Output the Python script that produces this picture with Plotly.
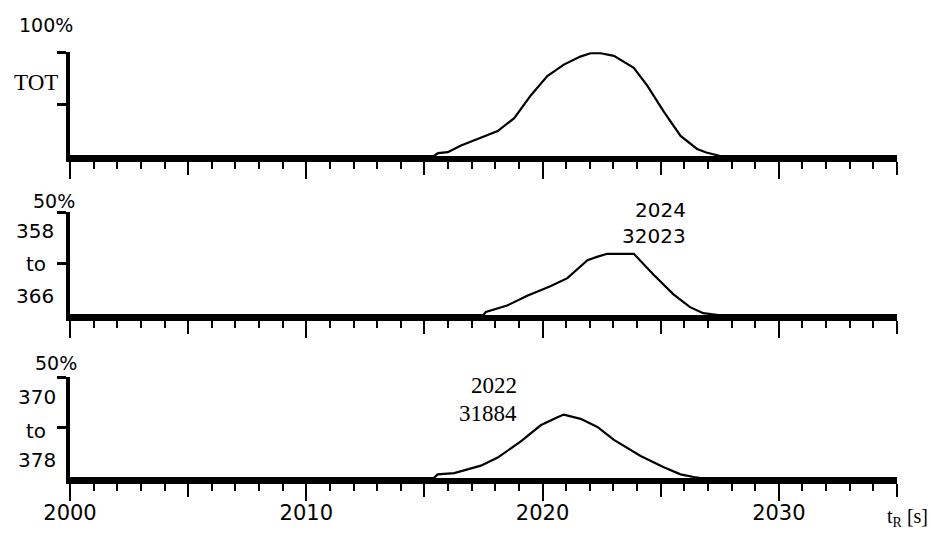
import plotly.graph_objects as go

# ---------------- data ----------------
t_tot = [2000, 2015.4, 2015.58, 2015.99, 2016.55, 2017.39, 2018.1, 2018.8, 2019.5, 2020.2,
         2020.9, 2021.6, 2022.03, 2022.46, 2023.02, 2023.86, 2024.43, 2025.13, 2025.84,
         2026.54, 2026.93, 2027.52, 2035]
v_tot = [0, 0, 2.8, 3.7, 10, 17.8, 24, 36.4, 58.2, 76.9,
         87.9, 95.6, 98.8, 98.8, 96.3, 84.8, 67.6, 42.7, 19.3,
         6.8, 3.3, 0, 0]

t_358 = [2000, 2017.5, 2017.6, 2018.5, 2019.35, 2020.33, 2021.05, 2021.9, 2022.3, 2022.74,
         2023.86, 2024.7, 2025.54, 2026.24, 2026.8, 2027.44, 2035]
v_358 = [0, 0, 1.5, 4.6, 9.3, 14.0, 17.9, 26.6, 28.2, 29.7,
         29.7, 19.5, 10.0, 3.8, 0.9, 0, 0]

t_370 = [2000, 2015.4, 2015.56, 2016.26, 2017.39, 2018.1, 2019.08, 2019.92, 2020.63, 2020.9,
         2021.61, 2022.32, 2023.02, 2024.15, 2025.13, 2025.84, 2026.4, 2026.7, 2035]
v_370 = [0, 0, 1.8, 2.4, 6.1, 10.1, 18.1, 26.1, 30.1, 31.4,
         29.3, 25.3, 18.9, 10.9, 5.3, 1.8, 0.5, 0, 0]

x_range = [2000, 2035]
x_tick_labels = [2000, 2010, 2020, 2030]

panel_scale = ["100%", "50%", "50%"]
panel_names = [["TOT"], ["358", "to", "366"], ["370", "to", "378"]]
peak_labels = [None, ["2024", "32023"], ["2022", "31884"]]
x_title = "t<sub>R</sub> [s]"

# ---------------- layout helpers ----------------
W, H = 931, 535


def px(p):
    return p / W


def py(p):
    return 1 - p / H


SANS = "DejaVu Sans"
SERIF = "Liberation Serif"

fig = go.Figure()
series = [(t_tot, v_tot), (t_358, v_358), (t_370, v_370)]
for i, (t, v) in enumerate(series):
    sfx = "" if i == 0 else str(i + 1)
    fig.add_trace(go.Scatter(x=t, y=v, mode="lines", xaxis="x" + sfx, yaxis="y" + sfx,
                             line=dict(color="black", width=2.2), showlegend=False,
                             hoverinfo="skip"))
    # empty trace so that the overlay axis (long 10 s ticks) gets drawn
    fig.add_trace(go.Scatter(x=[], y=[], mode="lines", xaxis="x" + str(i + 4),
                             yaxis="y" + sfx, showlegend=False, hoverinfo="skip"))

xdom = [px(70), px(897)]
# pixel rows (baseline, top) of each panel
rows = [(156, 52), (315, 212), (478, 377)]
yranges = [[0, 100], [0, 50], [0, 50]]

layout = dict(width=W, height=H, margin=dict(l=0, r=0, t=0, b=0, autoexpand=False),
              paper_bgcolor="white", plot_bgcolor="white", showlegend=False)

for i in range(3):
    sfx = "" if i == 0 else str(i + 1)
    base, top = rows[i]
    ydom = [py(base), py(top)]
    layout["yaxis" + sfx] = dict(domain=ydom, range=yranges[i], anchor="x" + sfx,
                                 showline=True, linewidth=4, linecolor="black",
                                 ticks="outside", ticklen=9, tickwidth=3, tickcolor="black",
                                 tickvals=[yranges[i][1] / 2, yranges[i][1]],
                                 showticklabels=False, showgrid=False, zeroline=False,
                                 fixedrange=True, automargin=False)
    layout["xaxis" + sfx] = dict(domain=xdom, range=x_range, anchor="y" + sfx,
                                 showline=True, linewidth=6, linecolor="black",
                                 ticks="outside", ticklen=13, tickwidth=2, tickcolor="black",
                                 tick0=2000, dtick=5, tickmode="linear",
                                 minor=dict(ticks="outside", ticklen=7, tickwidth=2,
                                            tickcolor="black", dtick=1, tick0=2000),
                                 showticklabels=False, showgrid=False, zeroline=False,
                                 fixedrange=True, automargin=False)
    # overlay axis carrying the long 10 s ticks (and labels on the bottom panel)
    layout["xaxis" + str(i + 4)] = dict(overlaying="x" + sfx, anchor="y" + sfx,
                                       domain=xdom, range=x_range, showline=False,
                                       ticks="outside", ticklen=22, tickwidth=2,
                                       tickcolor="black", tickmode="array",
                                       tickvals=x_tick_labels,
                                       ticktext=[str(v) for v in x_tick_labels],
                                       showticklabels=(i == 2),
                                       ticklabelstandoff=-6,
                                       tickfont=dict(family=SANS, size=21, color="black"),
                                       showgrid=False, zeroline=False, fixedrange=True,
                                       automargin=False)

fig.update_layout(**layout)

ann = []


def add(text, x, y, xa="center", font=SANS, size=19):
    ann.append(dict(text=text, x=px(x), y=py(y), xref="paper", yref="paper",
                    xanchor=xa, yanchor="middle", showarrow=False,
                    font=dict(family=font, size=size, color="black")))


# panel 1
add(panel_scale[0], 46, 25)
add(panel_names[0][0], 36, 82, font=SERIF, size=23)
# panel 2
add(panel_scale[1], 54, 201)
add(panel_names[1][0], 56, 231, xa="right", size=20)
add(panel_names[1][1], 48, 264, xa="right", size=20)
add(panel_names[1][2], 56, 296, xa="right", size=20)
# panel 3
add(panel_scale[2], 56, 363)
add(panel_names[2][0], 58, 397, xa="right", size=20)
add(panel_names[2][1], 48, 431, xa="right", size=20)
add(panel_names[2][2], 58, 460, xa="right", size=20)
# peak labels
add(peak_labels[1][0], 688, 210, xa="right", size=20)
add(peak_labels[1][1], 688, 236, xa="right", size=20)
add(peak_labels[2][0], 519, 385, xa="right", font=SERIF, size=23)
add(peak_labels[2][1], 519, 413, xa="right", font=SERIF, size=23)
# axis title
add(x_title, 907, 517, font=SERIF, size=20)

fig.update_layout(annotations=ann)
fig.write_html("out.html")
